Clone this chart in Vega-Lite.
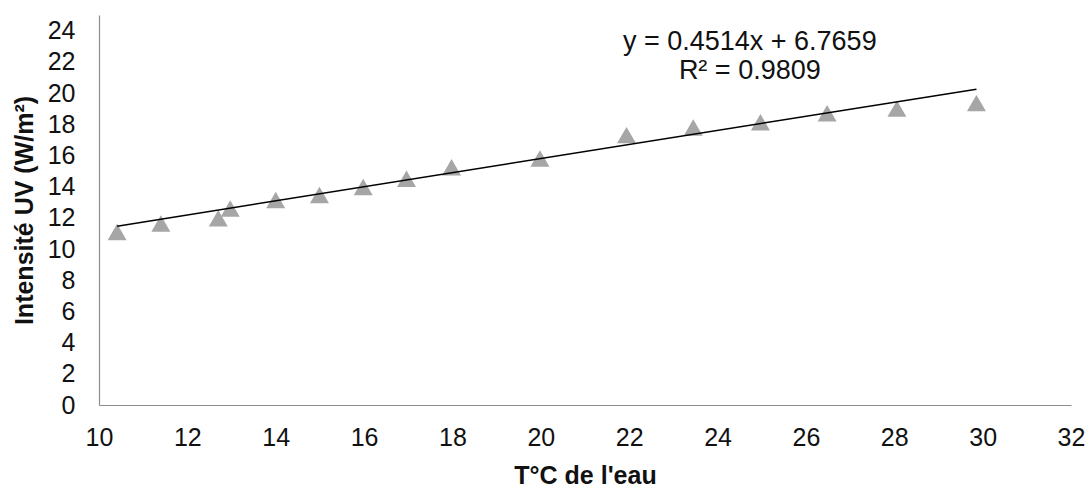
{
  "$schema": "https://vega.github.io/schema/vega-lite/v6.json",
  "width": 972,
  "height": 390,
  "autosize": {"type": "none"},
  "padding": {"left": 99, "top": 15, "right": 16, "bottom": 82},
  "background": "white",
  "config": {
    "view": {"stroke": null},
    "font": "Liberation Sans",
    "axis": {
      "grid": false,
      "ticks": false,
      "tickSize": 0,
      "domainColor": "#8c8c8c",
      "domainWidth": 1.2,
      "labelColor": "#111111",
      "titleColor": "#111111",
      "labelFont": "Liberation Sans",
      "titleFont": "Liberation Sans",
      "labelFontSize": 25,
      "titleFontSize": 25,
      "titleFontWeight": "bold",
      "labelFontWeight": "normal",
      "labelOverlap": false,
      "labelFlush": false
    }
  },
  "datasets": {
    "pts": [
      {"temp": 10.41, "uv": 11.09},
      {"temp": 11.4, "uv": 11.64},
      {"temp": 12.7, "uv": 11.97},
      {"temp": 12.97, "uv": 12.6},
      {"temp": 14.0, "uv": 13.14},
      {"temp": 14.99, "uv": 13.46},
      {"temp": 15.98, "uv": 13.97},
      {"temp": 16.96, "uv": 14.5},
      {"temp": 17.98, "uv": 15.24},
      {"temp": 19.98, "uv": 15.8},
      {"temp": 21.94, "uv": 17.3},
      {"temp": 23.45, "uv": 17.79},
      {"temp": 24.97, "uv": 18.13},
      {"temp": 26.48, "uv": 18.7},
      {"temp": 28.06, "uv": 19.0},
      {"temp": 29.86, "uv": 19.35}
    ],
    "trend": [
      {"temp": 10.41, "uv": 11.465},
      {"temp": 29.86, "uv": 20.245}
    ],
    "eq": [
      {"line1": "y = 0.4514x + 6.7659", "line2": "R² = 0.9809"}
    ]
  },
  "layer": [
    {
      "data": {"name": "pts"},
      "mark": {"type": "point", "shape": "triangle-up", "filled": true, "size": 360, "color": "#a6a6a6", "opacity": 1},
      "encoding": {
        "x": {
          "field": "temp", "type": "quantitative",
          "scale": {"domain": [10, 32], "nice": false, "zero": false},
          "axis": {"values": [10, 12, 14, 16, 18, 20, 22, 24, 26, 28, 30, 32], "title": "T°C de l'eau", "labelPadding": 20, "titlePadding": 13, "labelOverlap": false, "labelFlush": false}
        },
        "y": {
          "field": "uv", "type": "quantitative",
          "scale": {"domain": [0, 25], "nice": false},
          "axis": {"values": [0, 2, 4, 6, 8, 10, 12, 14, 16, 18, 20, 22, 24], "title": "Intensité UV  (W/m²)", "labelPadding": 24, "titlePadding": 10, "labelOverlap": false, "labelFlush": false}
        }
      }
    },
    {
      "data": {"name": "trend"},
      "mark": {"type": "line", "color": "#000000", "strokeWidth": 1.5},
      "encoding": {
        "x": {
          "field": "temp", "type": "quantitative",
          "axis": {"values": [10, 12, 14, 16, 18, 20, 22, 24, 26, 28, 30, 32], "title": "T°C de l'eau", "labelPadding": 20, "titlePadding": 13, "labelOverlap": false, "labelFlush": false}
        },
        "y": {
          "field": "uv", "type": "quantitative",
          "axis": {"values": [0, 2, 4, 6, 8, 10, 12, 14, 16, 18, 20, 22, 24], "title": "Intensité UV  (W/m²)", "labelPadding": 24, "titlePadding": 10, "labelOverlap": false, "labelFlush": false}
        }
      }
    },
    {
      "data": {"name": "eq"},
      "mark": {"type": "text", "fontSize": 27, "font": "Liberation Sans", "color": "#111111", "align": "center", "baseline": "middle"},
      "encoding": {
        "x": {"datum": 24.73, "type": "quantitative",
          "axis": {"values": [10, 12, 14, 16, 18, 20, 22, 24, 26, 28, 30, 32], "title": "T°C de l'eau", "labelPadding": 20, "titlePadding": 13, "labelOverlap": false, "labelFlush": false}},
        "y": {"datum": 23.26, "type": "quantitative",
          "axis": {"values": [0, 2, 4, 6, 8, 10, 12, 14, 16, 18, 20, 22, 24], "title": "Intensité UV  (W/m²)", "labelPadding": 24, "titlePadding": 10, "labelOverlap": false, "labelFlush": false}},
        "text": {"field": "line1"}
      }
    },
    {
      "data": {"name": "eq"},
      "mark": {"type": "text", "fontSize": 27, "font": "Liberation Sans", "color": "#111111", "align": "center", "baseline": "middle"},
      "encoding": {
        "x": {"datum": 24.73, "type": "quantitative",
          "axis": {"values": [10, 12, 14, 16, 18, 20, 22, 24, 26, 28, 30, 32], "title": "T°C de l'eau", "labelPadding": 20, "titlePadding": 13, "labelOverlap": false, "labelFlush": false}},
        "y": {"datum": 21.44, "type": "quantitative",
          "axis": {"values": [0, 2, 4, 6, 8, 10, 12, 14, 16, 18, 20, 22, 24], "title": "Intensité UV  (W/m²)", "labelPadding": 24, "titlePadding": 10, "labelOverlap": false, "labelFlush": false}},
        "text": {"field": "line2"}
      }
    }
  ]
}
